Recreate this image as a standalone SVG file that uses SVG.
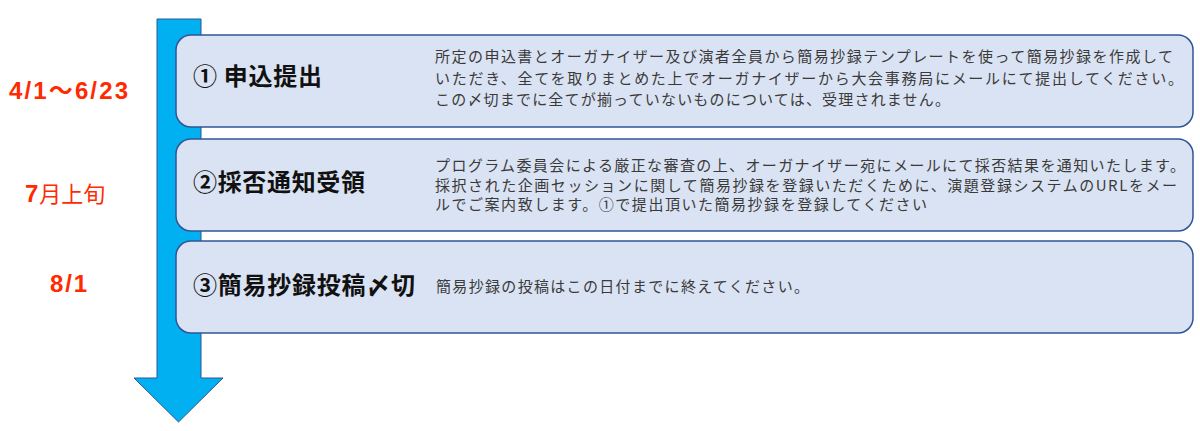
<svg xmlns="http://www.w3.org/2000/svg" width="1200" height="431" viewBox="0 0 1200 431">
<style>
.box{fill:#DAE3F3;stroke:#2F5597;stroke-width:1.5}
.title{font-family:"Noto Sans CJK JP","Noto Sans",sans-serif;font-weight:bold;font-size:24px;fill:#111}
.desc{font-family:"Noto Sans CJK JP","Noto Sans",sans-serif;font-size:15px;fill:#3A3A3A}
.date{font-family:"Liberation Sans","Noto Sans CJK JP",sans-serif;font-size:24px;fill:#FF2A00}
.b{font-weight:bold}
</style>
<rect width="1200" height="431" fill="#FFFFFF"/>
<g id="connectors">
<path d="M157,19 L201,19 L201,378 L223,378 L178.5,422 L134,378 L157,378 Z" fill="#00B0F0" stroke="#2F5597" stroke-width="1"/>
</g>
<g id="dates">
<text class="date b" x="9" y="99" textLength="119">4/1～6/23</text>
<text class="date" x="25" y="202"><tspan class="b">7</tspan><tspan dx="1" font-size="22">月上旬</tspan></text>
<text class="date b" x="50" y="292" textLength="37">8/1</text>
</g>
<g id="step1">
<rect class="box" x="176" y="35" width="1017" height="92" rx="15"/>
<text class="title" x="193" y="85" textLength="129">① 申込提出</text>
<text class="desc" x="435" y="62" textLength="738">所定の申込書とオーガナイザー及び演者全員から簡易抄録テンプレートを使って簡易抄録を作成して</text>
<text class="desc" x="435" y="83.5" textLength="748">いただき、全てを取りまとめた上でオーガナイザーから大会事務局にメールにて提出してください。</text>
<text class="desc" x="435" y="105" textLength="515">この〆切までに全てが揃っていないものについては、受理されません。</text>
</g>
<g id="step2">
<rect class="box" x="176" y="139" width="1017" height="92" rx="15"/>
<text class="title" x="193" y="191" textLength="172">②採否通知受領</text>
<text class="desc" x="435" y="171" textLength="750">プログラム委員会による厳正な審査の上、オーガナイザー宛にメールにて採否結果を通知いたします。</text>
<text class="desc" x="435" y="190.5" textLength="742">採択された企画セッションに関して簡易抄録を登録いただくために、演題登録システムのURLをメー</text>
<text class="desc" x="435" y="210" textLength="492">ルでご案内致します。①で提出頂いた簡易抄録を登録してください</text>
</g>
<g id="step3">
<rect class="box" x="176" y="241" width="1017" height="92" rx="15"/>
<text class="title" x="193" y="294" textLength="222">③簡易抄録投稿〆切</text>
<text class="desc" x="436" y="292" textLength="373">簡易抄録の投稿はこの日付までに終えてください。</text>
</g>
</svg>
